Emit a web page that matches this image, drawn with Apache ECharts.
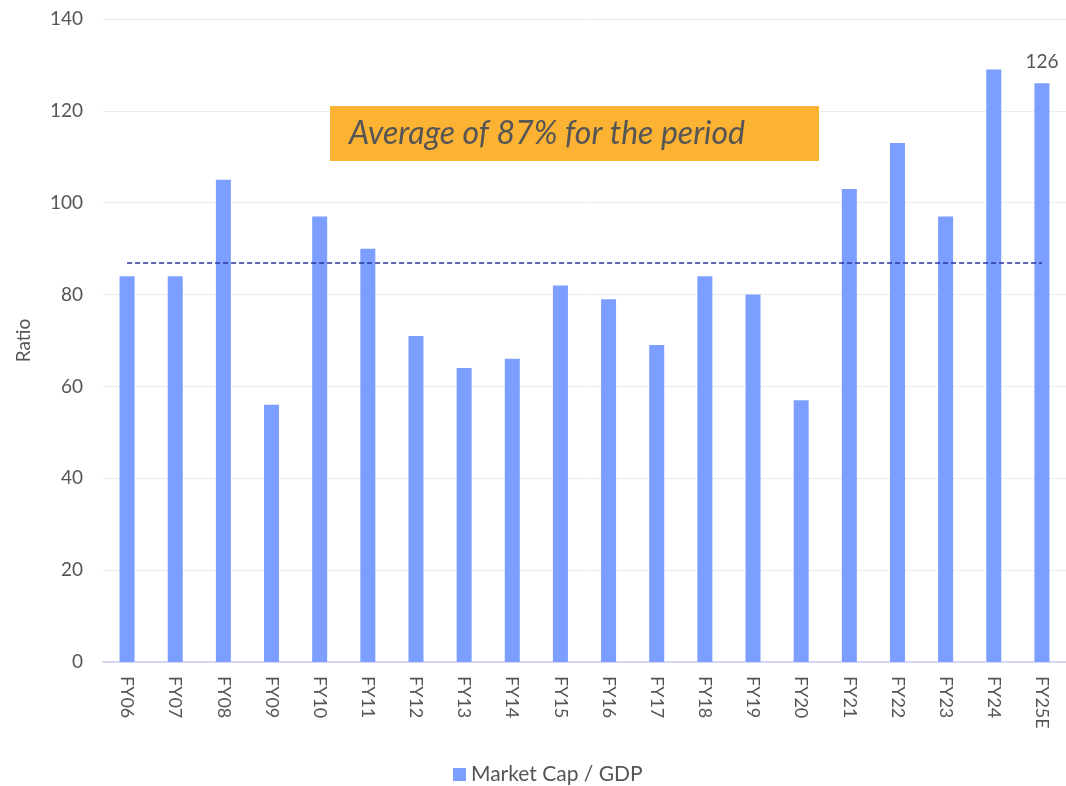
<!DOCTYPE html>
<html>
<head>
<meta charset="utf-8">
<script src="https://cdn.jsdelivr.net/npm/echarts@6/dist/echarts.min.js"></script>
<style>html,body{margin:0;padding:0;background:#fff}#c{width:1066px;height:786px}</style>
</head>
<body>
<div id="c"></div>
<script>
const categories = ['FY06','FY07','FY08','FY09','FY10','FY11','FY12','FY13','FY14','FY15','FY16','FY17','FY18','FY19','FY20','FY21','FY22','FY23','FY24','FY25E'];
const marketCapGdp = [84,84,105,56,97,90,71,64,66,82,79,69,84,80,57,103,113,97,129,126];
const averageValue = 87;
const yTicks = {min: 0, max: 140, interval: 20};
const seriesName = 'Market Cap / GDP';
const annotationText = 'Average of 87% for the period';

const FONT = 'Lato, "Open Sans", sans-serif';
const chart = echarts.init(document.getElementById('c'), null, {renderer: 'canvas'});
chart.setOption({
  backgroundColor: '#ffffff',
  animation: false,
  textStyle: {fontFamily: FONT},
  grid: {left: 103, right: -8, top: 19, bottom: 124, containLabel: false},
  legend: {
    top: 759, left: 448,
    itemWidth: 13, itemHeight: 13, icon: 'rect', itemGap: 6,
    textStyle: {fontSize: 21, color: '#555', fontFamily: FONT},
    data: [seriesName]
  },
  xAxis: {
    type: 'category', data: categories,
    axisLine: {lineStyle: {color: '#d6d6f5', width: 2}},
    axisTick: {show: false},
    axisLabel: {rotate: -90, color: '#555', fontSize: 18, margin: 14, fontFamily: FONT, interval: 0}
  },
  yAxis: {
    type: 'value', min: yTicks.min, max: yTicks.max, interval: yTicks.interval,
    name: 'Ratio', nameLocation: 'middle', nameGap: 70, nameRotate: 90,
    nameTextStyle: {color: '#555', fontSize: 19, fontFamily: FONT},
    axisLine: {show: false}, axisTick: {show: false},
    axisLabel: {color: '#555', fontSize: 19, margin: 20, fontFamily: FONT},
    splitLine: {lineStyle: {color: '#ececec', width: 1}}
  },
  series: [{
    name: seriesName, type: 'bar', data: marketCapGdp.map((v, i) => i === marketCapGdp.length - 1 ? {value: v, label: {show: true}} : v),
    barWidth: 15,
    itemStyle: {color: '#7b9eff'},
    label: {show: false, position: 'top', color: '#555', fontSize: 19, distance: 12, fontFamily: FONT},
    markLine: {
      symbol: 'none', silent: true,
      label: {show: false},
      lineStyle: {type: [5, 3], color: '#27339e', width: 1.6},
      data: [[{coord: [categories[0], averageValue]}, {coord: [categories[categories.length - 1], averageValue]}]]
    }
  }],
  graphic: [{
    type: 'group', left: 330, top: 106, z: 100,
    children: [
      {type: 'rect', z: 100, shape: {x: 0, y: 0, width: 489, height: 55}, style: {fill: '#fcb232'}},
      {type: 'text', z: 101, x: 19, y: 28, style: {text: annotationText, fill: '#555', font: 'italic 32px ' + FONT, verticalAlign: 'middle'}}
    ]
  }]
});
</script>
</body>
</html>
